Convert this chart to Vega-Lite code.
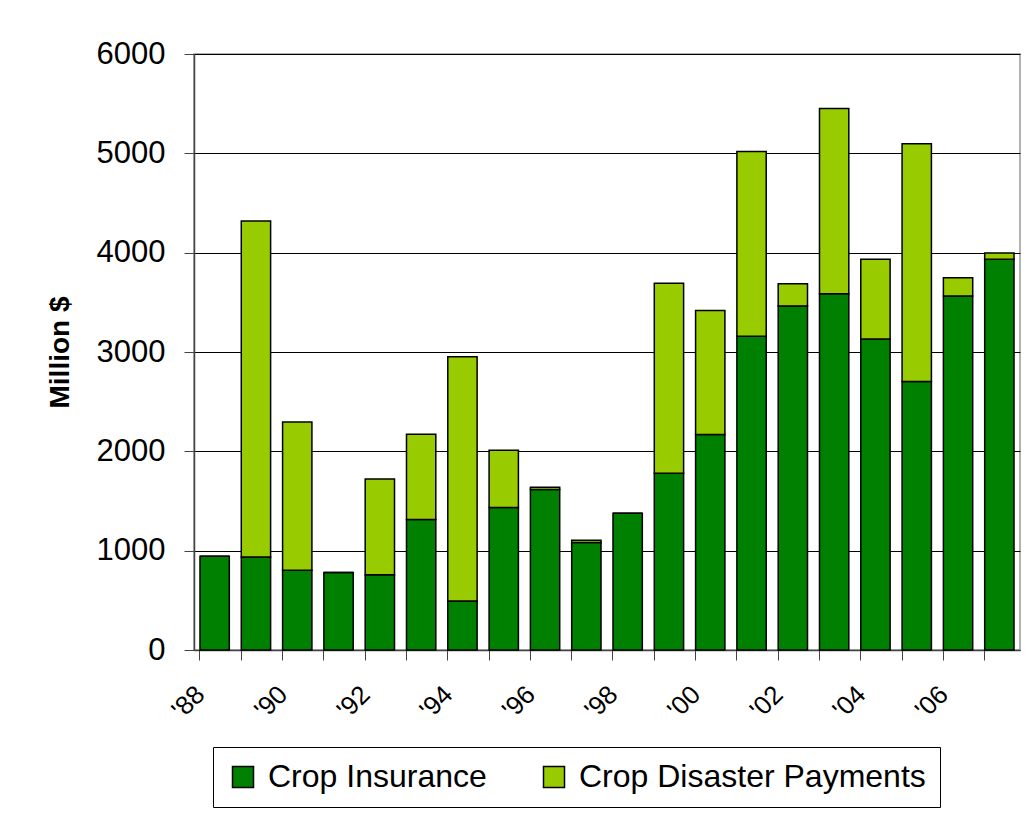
{
  "$schema": "https://vega.github.io/schema/vega-lite/v6.json",
  "width": 826,
  "height": 596,
  "autosize": {"type": "none"},
  "padding": {"left": 194, "top": 54, "right": 10, "bottom": 175},
  "background": "white",
  "config": {
    "font": "Liberation Sans",
    "view": {"stroke": "#999999", "strokeWidth": 1.5}
  },
  "data": {
    "values": [
      {"year": 1988, "type": "Crop Insurance", "value": 943},
      {"year": 1988, "type": "Crop Disaster Payments", "value": 0},
      {"year": 1989, "type": "Crop Insurance", "value": 937},
      {"year": 1989, "type": "Crop Disaster Payments", "value": 3383},
      {"year": 1990, "type": "Crop Insurance", "value": 802},
      {"year": 1990, "type": "Crop Disaster Payments", "value": 1494},
      {"year": 1991, "type": "Crop Insurance", "value": 779},
      {"year": 1991, "type": "Crop Disaster Payments", "value": 0},
      {"year": 1992, "type": "Crop Insurance", "value": 758},
      {"year": 1992, "type": "Crop Disaster Payments", "value": 964},
      {"year": 1993, "type": "Crop Insurance", "value": 1313},
      {"year": 1993, "type": "Crop Disaster Payments", "value": 859},
      {"year": 1994, "type": "Crop Insurance", "value": 494},
      {"year": 1994, "type": "Crop Disaster Payments", "value": 2458},
      {"year": 1995, "type": "Crop Insurance", "value": 1434},
      {"year": 1995, "type": "Crop Disaster Payments", "value": 578},
      {"year": 1996, "type": "Crop Insurance", "value": 1615},
      {"year": 1996, "type": "Crop Disaster Payments", "value": 24},
      {"year": 1997, "type": "Crop Insurance", "value": 1082},
      {"year": 1997, "type": "Crop Disaster Payments", "value": 22},
      {"year": 1998, "type": "Crop Insurance", "value": 1377},
      {"year": 1998, "type": "Crop Disaster Payments", "value": 0},
      {"year": 1999, "type": "Crop Insurance", "value": 1779},
      {"year": 1999, "type": "Crop Disaster Payments", "value": 1912},
      {"year": 2000, "type": "Crop Insurance", "value": 2170},
      {"year": 2000, "type": "Crop Disaster Payments", "value": 1249},
      {"year": 2001, "type": "Crop Insurance", "value": 3158},
      {"year": 2001, "type": "Crop Disaster Payments", "value": 1861},
      {"year": 2002, "type": "Crop Insurance", "value": 3464},
      {"year": 2002, "type": "Crop Disaster Payments", "value": 224},
      {"year": 2003, "type": "Crop Insurance", "value": 3587},
      {"year": 2003, "type": "Crop Disaster Payments", "value": 1864},
      {"year": 2004, "type": "Crop Insurance", "value": 3132},
      {"year": 2004, "type": "Crop Disaster Payments", "value": 802},
      {"year": 2005, "type": "Crop Insurance", "value": 2703},
      {"year": 2005, "type": "Crop Disaster Payments", "value": 2394},
      {"year": 2006, "type": "Crop Insurance", "value": 3564},
      {"year": 2006, "type": "Crop Disaster Payments", "value": 183},
      {"year": 2007, "type": "Crop Insurance", "value": 3934},
      {"year": 2007, "type": "Crop Disaster Payments", "value": 63}
    ]
  },
  "mark": {"type": "bar", "stroke": "black", "strokeWidth": 1.5},
  "encoding": {
    "x": {
      "field": "year",
      "type": "ordinal",
      "sort": null,
      "scale": {"paddingInner": 0.29, "paddingOuter": 0.145},
      "axis": {
        "title": null,
        "bandPosition": 0,
        "labelAngle": -45,
        "labelAlign": "right",
        "labelBaseline": "middle",
        "labelOffset": -14,
        "labelPadding": 30,
        "labelFontSize": 26,
        "labelColor": "black",
        "labelOverlap": false,
        "labelExpr": "datum.value % 2 == 0 ? \"'\" + substring(toString(datum.value), 2, 4) : ''",
        "tickSize": 10,
        "tickColor": "#444444",
        "domainColor": "#444444",
        "domainWidth": 1.5,
        "grid": false
      }
    },
    "y": {
      "field": "value",
      "type": "quantitative",
      "stack": "zero",
      "scale": {"domain": [0, 6000], "nice": false},
      "axis": {
        "values": [0, 1000, 2000, 3000, 4000, 5000, 6000],
        "format": "d",
        "title": "Million $",
        "titleFontSize": 28,
        "titleFontWeight": "bold",
        "titleColor": "black",
        "titlePadding": 22,
        "labelFontSize": 31,
        "labelColor": "black",
        "labelPadding": 19,
        "tickSize": 10,
        "tickColor": "#444444",
        "domainColor": "#444444",
        "domainWidth": 1.5,
        "gridColor": "black",
        "gridWidth": 1
      }
    },
    "color": {
      "field": "type",
      "type": "nominal",
      "scale": {
        "domain": ["Crop Insurance", "Crop Disaster Payments"],
        "range": ["#008000", "#99CC00"]
      },
      "legend": {
        "title": null,
        "orient": "none",
        "legendX": 19,
        "legendY": 693,
        "direction": "horizontal",
        "strokeColor": "black",
        "fillColor": "white",
        "padding": 14,
        "labelFontSize": 32,
        "labelColor": "black",
        "labelLimit": 0,
        "labelOffset": 9,
        "columnPadding": 51,
        "symbolType": "square",
        "symbolSize": 441,
        "symbolStrokeColor": "black",
        "symbolStrokeWidth": 1.5
      }
    },
    "order": {"field": "type", "sort": "descending"}
  }
}
